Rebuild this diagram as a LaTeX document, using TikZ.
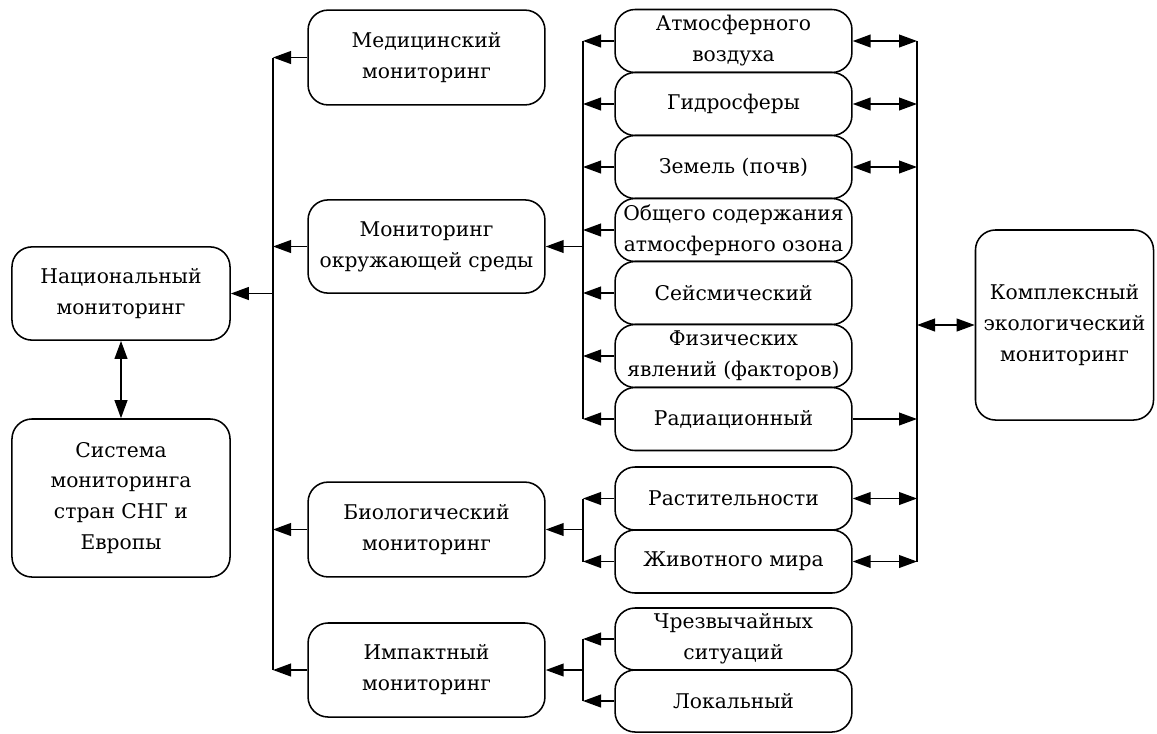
\documentclass[tikz,border=0pt]{standalone}
\usepackage{fontspec}
\setmainfont{DejaVu Serif}
\usetikzlibrary{arrows.meta}
\begin{document}
\begin{tikzpicture}[
                x=0.025cm, y=-0.025cm,
                box/.style={
                    draw=black,
                    fill=white,
                    rectangle,
                    rounded corners=0.5cm,
                    line width=1.1pt,
                    inner sep=1pt,
                    align=center,
                    font=\fontsize{14.4}{22}\selectfont
                },
                leftbox/.style={box, minimum width=5.45cm},
                midbox/.style={box, minimum width=5.92cm},
                subbox/.style={box, minimum width=5.92cm, minimum height=1.575cm},
                line/.style={line width=1.1pt},
                arrow/.style={
                    line,
                    -{Triangle[length=0.45cm,width=0.32cm]}
                },
                dblarrow/.style={
                    line,
                    {Triangle[length=0.45cm,width=0.32cm]}-{Triangle[length=0.45cm,width=0.32cm]}
                }
            ]
                \useasboundingbox (0,0) rectangle (1157,733);

                % left column
                \node[leftbox, minimum height=2.33cm] (nat) at (121,293.5) {Национальный\\мониторинг};
                \node[leftbox, minimum height=3.95cm] (sng) at (121,498) {Система\\мониторинга\\стран СНГ и\\Европы};

                % middle column
                \node[midbox, minimum height=2.37cm] (med) at (426.5,57.5) {Медицинский\\мониторинг};
                \node[midbox, minimum height=2.33cm] (env) at (426.5,246.5) {Мониторинг\\окружающей среды};
                \node[midbox, minimum height=2.37cm] (bio) at (426.5,529.5) {Биологический\\мониторинг};
                \node[midbox, minimum height=2.35cm] (imp) at (426.5,670) {Импактный\\мониторинг};

                % environment kinds
                \node[subbox] (atm) at (733.5,41) {Атмосферного\\воздуха};
                \node[subbox] (hyd) at (733.5,104) {Гидросферы};
                \node[subbox] (soil) at (733.5,167) {Земель (почв)};
                \node[subbox] (ozon) at (733.5,230) {Общего содержания\\атмосферного озона};
                \node[subbox] (seism) at (733.5,293) {Сейсмический};
                \node[subbox] (phys) at (733.5,356) {Физических\\явлений (факторов)};
                \node[subbox] (rad) at (733.5,419) {Радиационный};

                % biological kinds
                \node[subbox] (flora) at (733.5,498.5) {Растительности};
                \node[subbox] (fauna) at (733.5,561.5) {Животного мира};

                % impact kinds
                \node[subbox, minimum height=1.55cm] (emerg) at (733.5,639) {Чрезвычайных\\ситуаций};
                \node[subbox, minimum height=1.55cm] (local) at (733.5,701) {Локальный};

                % right box
                \node[box, minimum width=4.45cm, minimum height=4.75cm] (kem) at (1064.5,325) {Комплексный\\экологический\\мониторинг};

                % bus lines
                \coordinate (busL) at (273,0);
                \coordinate (busE) at (583,0);
                \coordinate (busR) at (917,0);

                % left bus
                \draw[line] (med.west -| busL) -- (imp.west -| busL);
                \draw[arrow] (med.west) -- (med.west -| busL);
                \draw[arrow] (env.west) -- (env.west -| busL);
                \draw[arrow] (bio.west) -- (bio.west -| busL);
                \draw[arrow] (imp.west) -- (imp.west -| busL);
                \draw[arrow] (nat.east -| busL) -- (nat.east);
                \draw[dblarrow] (nat) -- (sng);

                % environment bus
                \draw[line] (atm.west -| busE) -- (rad.west -| busE);
                \draw[arrow] (atm.west) -- (atm.west -| busE);
                \draw[arrow] (hyd.west) -- (hyd.west -| busE);
                \draw[arrow] (soil.west) -- (soil.west -| busE);
                \draw[arrow] (ozon.west) -- (ozon.west -| busE);
                \draw[arrow] (seism.west) -- (seism.west -| busE);
                \draw[arrow] (phys.west) -- (phys.west -| busE);
                \draw[arrow] (rad.west) -- (rad.west -| busE);
                \draw[arrow] (env.east -| busE) -- (env.east);

                % biological bus
                \draw[line] (flora.west -| busE) -- (fauna.west -| busE);
                \draw[arrow] (flora.west) -- (flora.west -| busE);
                \draw[arrow] (fauna.west) -- (fauna.west -| busE);
                \draw[arrow] (bio.east -| busE) -- (bio.east);

                % impact bus
                \draw[line] (emerg.west -| busE) -- (local.west -| busE);
                \draw[arrow] (emerg.west) -- (emerg.west -| busE);
                \draw[arrow] (local.west) -- (local.west -| busE);
                \draw[arrow] (imp.east -| busE) -- (imp.east);

                % right bus
                \draw[line] (atm.east -| busR) -- (fauna.east -| busR);
                \draw[dblarrow] (atm.east) -- (atm.east -| busR);
                \draw[dblarrow] (hyd.east) -- (hyd.east -| busR);
                \draw[dblarrow] (soil.east) -- (soil.east -| busR);
                \draw[arrow] (rad.east) -- (rad.east -| busR);
                \draw[dblarrow] (flora.east) -- (flora.east -| busR);
                \draw[dblarrow] (fauna.east) -- (fauna.east -| busR);
                \draw[dblarrow] (kem.west -| busR) -- (kem.west);
        \end{tikzpicture}
\end{document}
